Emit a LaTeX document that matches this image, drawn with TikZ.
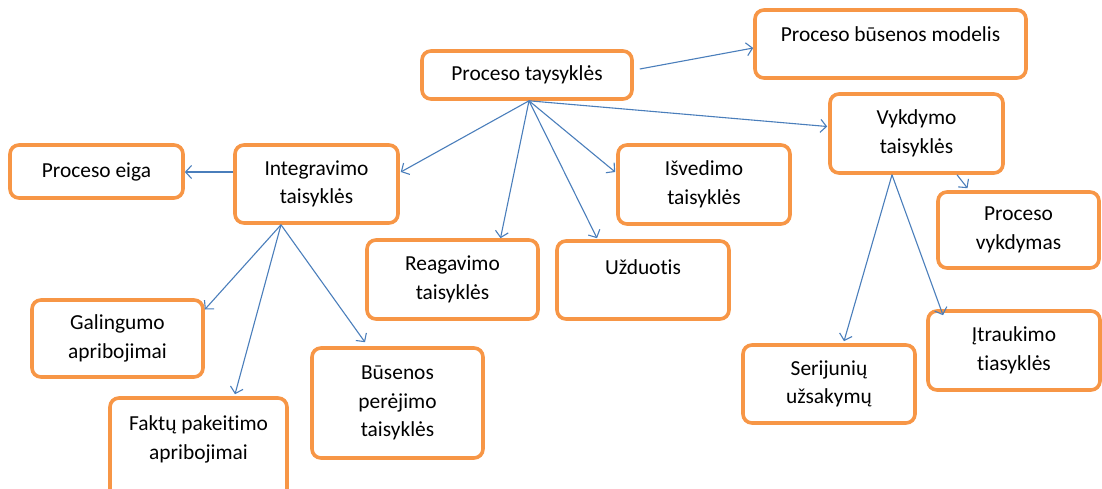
\documentclass[tikz,border=0pt]{standalone}
\usepackage{fontspec}
\setmainfont{Carlito}[Ligatures=NoCommon]
\usetikzlibrary{arrows.meta,calc}
\definecolor{boxorange}{HTML}{F79646}
\definecolor{linkblue}{HTML}{4A7EBB}
\tikzset{
  box/.style={draw=boxorange, line width=3.6pt, rounded corners=9pt, fill=white,
    align=center, inner sep=0pt, text=black,
    font=\fontsize{21.4}{28.5}\selectfont},
  link/.style={draw=linkblue, line width=1.1pt,
    -{Straight Barb[length=6pt,width=13pt,line width=1.1pt]}},
}
\begin{document}
\begin{tikzpicture}[x=1pt,y=-1pt]
\useasboundingbox (0,0) rectangle (1102,488);
\clip (0,0) rectangle (1102,488);

% boxes
\node[box, minimum width=210, minimum height=48] (pt)  at (527,75)    {Proceso taysyklės};
\node[box, minimum width=271, minimum height=68] (pbm) at (890.5,44)  {Proceso būsenos modelis\\[-8pt]\mbox{}};
\node[box, minimum width=173, minimum height=79] (vyk) at (916.5,133.5) {Vykdymo\\taisyklės};
\node[box, minimum width=161, minimum height=76] (pv)  at (1018.5,230) {Proceso\\vykdymas};
\node[box, minimum width=173, minimum height=53] (eiga) at (96.5,171.5) {Proceso eiga};
\node[box, minimum width=163, minimum height=78] (int) at (316.5,184) {Integravimo\\taisyklės};
\node[box, minimum width=172, minimum height=79] (isv) at (704,184.5) {Išvedimo\\taisyklės};
\node[box, minimum width=171, minimum height=79] (rea) at (452.5,279.5) {Reagavimo\\taisyklės};
\node[box, minimum width=172, minimum height=78] (uzd) at (643,280)   {Užduotis\\[-2pt]\mbox{}};
\node[box, minimum width=171, minimum height=77] (gal) at (117.5,338.5) {Galingumo\\apribojimai};
\node[box, minimum width=177, minimum height=108] (fak) at (198.5,452) {Faktų pakeitimo\\apribojimai\\\mbox{}};
\node[box, minimum width=171, minimum height=110] (bus) at (397.5,403) {Būsenos\\perėjimo\\taisyklės};
\node[box, minimum width=172, minimum height=78] (ser) at (829,384)   {Serijunių\\užsakymų};
\node[box, minimum width=172, minimum height=79] (itr) at (1014,350.5) {Įtraukimo\\tiasyklės};

% branching points on box edges
\coordinate (pthub)  at ($(pt.south)+(2,0)$);
\coordinate (inthub) at ($(int.south)+(-35.5,0)$);
\coordinate (vykhub) at ($(vyk.south)+(-24.5,0)$);

% connectors
\draw[link] ($(pt.east)+(6,-6)$) -- ($(pbm.west)+(0,4)$);
\draw[link] (pthub) -- ($(vyk.west)+(-1,-7)$);
\draw[link] (pthub) -- ($(int.east)+(1,-12)$);
\draw[link] (pthub) -- ($(rea.north)+(48,0)$);
\draw[link] (pthub) -- ($(uzd.north)+(-46,-1)$);
\draw[link] (pthub) -- ($(isv.west)+(-1,-12.5)$);

\draw[link] ($(int.west)+(0,-12)$) -- ($(eiga.east)+(0,0.5)$);
\draw[link] (inthub) -- ($(gal.east)+(0,-29)$);
\draw[link] (inthub) -- ($(fak.north)+(36.5,-2)$);
\draw[link] (inthub) -- ($(bus.north)+(-32.5,-4)$);

\draw[link] ($(vyk.south)+(40.5,0)$) -- ($(pv.north)+(-51,-2)$);
\draw[link] (vykhub) -- ($(ser.north)+(15,-2)$);
\draw[link] (vykhub) -- ($(itr.north)+(-71,6)$);
\end{tikzpicture}
\end{document}
